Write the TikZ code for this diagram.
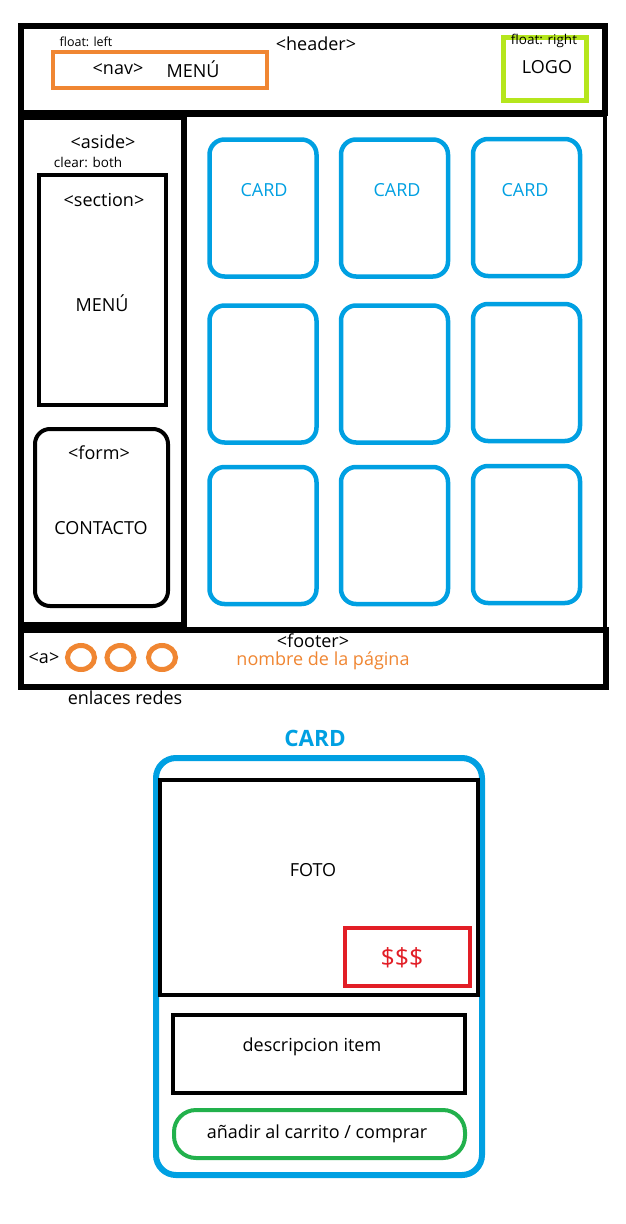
\documentclass[tikz,border=0pt]{standalone}
\usepackage{fontspec}
\setmainfont{Open Sans}
\usetikzlibrary{shapes.geometric}
\definecolor{cblue}{RGB}{0,160,226}
\definecolor{corange}{RGB}{240,134,50}
\definecolor{clime}{RGB}{181,230,29}
\definecolor{cred}{RGB}{226,30,38}
\definecolor{cgreen}{RGB}{34,177,76}
\begin{document}
\begin{tikzpicture}[x=1pt,y=-1pt,
  txt/.style={font=\fontsize{18}{21}\selectfont, inner sep=0pt},
  smalltxt/.style={font=\fontsize{13.5}{16}\selectfont, inner sep=0pt},
  blk/.style={draw=black, inner sep=0pt},
  cardbox/.style={draw=cblue, line width=4.5pt, rounded corners=15pt, inner sep=0pt,
                  minimum width=107pt, minimum height=137pt},
  ring/.style={draw=corange, line width=5pt, ellipse, inner sep=0pt,
               minimum width=27pt, minimum height=24pt}
]
\useasboundingbox (0,0) rectangle (626,1224);
\fill[white] (0,0) rectangle (626,1224);

% ---------- page layout ----------
\node[blk, line width=6pt, minimum width=584pt, minimum height=87pt] (header) at (313,69.5) {};
\node[blk, line width=4pt, minimum width=421pt, minimum height=514pt] (main) at (394.5,372) {};
\node[blk, line width=6pt, minimum width=163pt, minimum height=508pt] (aside) at (102.5,371) {};
\node[blk, line width=6pt, minimum width=585pt, minimum height=56.5pt] (footer) at (313.5,658.25) {};

% header
\node[txt] (headertxt) at (316,44) {<header>};
\node[smalltxt, font=\fontsize{12.5}{15}\selectfont] (floatl) at (86,42) {float: left};
\node[draw=corange, line width=4pt, inner sep=0pt, minimum width=214pt, minimum height=36pt] (nav) at (160,69.5) {};
\node[txt] (navtxt) at (118,69) {<nav>};
\node[txt] (navmenu) at (193,69) {MENÚ};
\node[draw=clime, line width=5pt, inner sep=0pt, minimum width=83pt, minimum height=63pt] (logo) at (544.5,68.5) {};
\node[smalltxt] (floatr) at (544,41) {float: right};
\node[txt] (logotxt) at (547,67) {LOGO};

% aside
\node[txt] (asidetxt) at (103,142) {<aside>};
\node[smalltxt] (clear) at (88,162) {clear: both};
\node[blk, line width=4pt, minimum width=127pt, minimum height=230pt] (section) at (102.5,290) {};
\node[txt] (sectiontxt) at (104,200) {<section>};
\node[txt] (sectionmenu) at (102,303) {MENÚ};
\node[blk, line width=4pt, rounded corners=15pt, minimum width=133pt, minimum height=177pt] (form) at (101.5,517.5) {};
\node[txt] (formtxt) at (99,453) {<form>};
\node[txt] (contacto) at (101,528) {CONTACTO};

% cards grid
\node[cardbox] (c11) at (263,208) {};
\node[cardbox] (c12) at (394.5,208) {};
\node[cardbox] (c13) at (526.5,207.5) {};
\node[cardbox] (c21) at (263,374) {};
\node[cardbox] (c22) at (394.5,374) {};
\node[cardbox] (c23) at (526.5,372.5) {};
\node[cardbox] (c31) at (263,535.5) {};
\node[cardbox] (c32) at (394.5,535.5) {};
\node[cardbox] (c33) at (526.5,534.5) {};
\node[txt, text=cblue] (c11t) at (264,190) {CARD};
\node[txt, text=cblue] (c12t) at (397,190) {CARD};
\node[txt, text=cblue] (c13t) at (525,190) {CARD};

% footer
\node[txt] (footertxt) at (313,641) {<footer>};
\node[txt, text=corange] (nombre) at (323,661) {nombre de la página};
\node[txt] (atxt) at (44,658) {<a>};
\node[ring] (r1) at (81,657.5) {};
\node[ring] (r2) at (120.5,657.5) {};
\node[ring] (r3) at (162,657.5) {};
\node[txt] (enlaces) at (125,698) {enlaces redes};

% ---------- card detail ----------
\node[font=\fontsize{22.5}{26}\selectfont\bfseries, text=cblue, inner sep=0pt] (cardtitle) at (315,738) {CARD};
\node[draw=cblue, line width=6pt, rounded corners=20pt, inner sep=0pt, minimum width=326pt, minimum height=417pt] (card) at (319,966.5) {};
\node[blk, line width=4.5pt, minimum width=318pt, minimum height=215pt] (foto) at (319,887.5) {};
\node[txt] (fototxt) at (313,870) {FOTO};
\node[draw=cred, line width=4pt, inner sep=0pt, minimum width=125pt, minimum height=58pt] (price) at (407.5,957) {};
\node[font=\fontsize{25}{29}\selectfont, text=cred, inner sep=0pt] (pricetxt) at (402,958) {\$\$\$};
\node[blk, line width=4.5pt, minimum width=292pt, minimum height=78pt] (desc) at (319,1054) {};
\node[txt] (desctxt) at (312,1047) {descripcion item};
\node[draw=cgreen, line width=4pt, rounded corners=22pt, inner sep=0pt, minimum width=291pt, minimum height=48pt] (buy) at (319.5,1134) {};
\node[txt] (buytxt) at (317,1134) {añadir al carrito / comprar};
\end{tikzpicture}
\end{document}
